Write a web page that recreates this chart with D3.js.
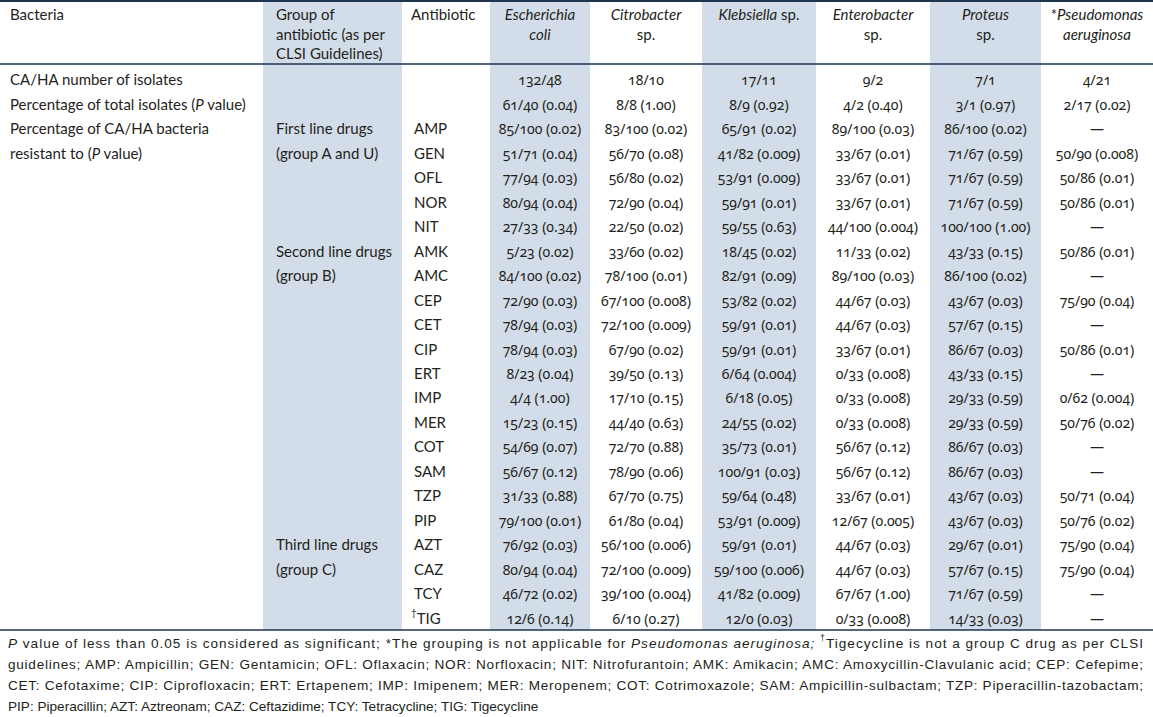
<!DOCTYPE html>
<html>
<head>
<meta charset="utf-8">
<script src="https://cdn.jsdelivr.net/npm/d3@7/dist/d3.min.js"></script>
<style>
  html, body { margin: 0; padding: 0; background: #fff; }
  svg { display: block; }
  .t { font-family: Lato, "Noto Sans", sans-serif; font-size: 15px; fill: #231f20; }
  .v { font-family: "Noto Sans", Lato, sans-serif; font-size: 14px; fill: #231f20; font-variant-numeric: oldstyle-nums; font-feature-settings: "onum" 1; }
  .fn { font-family: "Liberation Sans", Arial, sans-serif; font-size: 13.6px; fill: #231f20; }
</style>
</head>
<body>
<svg id="chart" width="1153" height="717"></svg>
<script>
// ---------- DATA ----------
const bacteria = ["Escherichia coli", "Citrobacter sp.", "Klebsiella sp.", "Enterobacter sp.", "Proteus sp.", "*Pseudomonas aeruginosa"];
const antibiotics = ["AMP","GEN","OFL","NOR","NIT","AMK","AMC","CEP","CET","CIP","ERT","IMP","MER","COT","SAM","TZP","PIP","AZT","CAZ","TCY","TIG"];
const groupLabels = [["First line drugs","(group A and U)"],["Second line drugs","(group B)"],["Third line drugs","(group C)"]];
const groupStart = ["AMP","AMK","AZT"];
const isolates = ["132/48","18/10","17/11","9/2","7/1","4/21"];
const percentTotal = ["61/40 (0.04)","8/8 (1.00)","8/9 (0.92)","4/2 (0.40)","3/1 (0.97)","2/17 (0.02)"];
const ecoli = ["85/100 (0.02)","51/71 (0.04)","77/94 (0.03)","80/94 (0.04)","27/33 (0.34)","5/23 (0.02)","84/100 (0.02)","72/90 (0.03)","78/94 (0.03)","78/94 (0.03)","8/23 (0.04)","4/4 (1.00)","15/23 (0.15)","54/69 (0.07)","56/67 (0.12)","31/33 (0.88)","79/100 (0.01)","76/92 (0.03)","80/94 (0.04)","46/72 (0.02)","12/6 (0.14)"];
const citrobacter = ["83/100 (0.02)","56/70 (0.08)","56/80 (0.02)","72/90 (0.04)","22/50 (0.02)","33/60 (0.02)","78/100 (0.01)","67/100 (0.008)","72/100 (0.009)","67/90 (0.02)","39/50 (0.13)","17/10 (0.15)","44/40 (0.63)","72/70 (0.88)","78/90 (0.06)","67/70 (0.75)","61/80 (0.04)","56/100 (0.006)","72/100 (0.009)","39/100 (0.004)","6/10 (0.27)"];
const klebsiella = ["65/91 (0.02)","41/82 (0.009)","53/91 (0.009)","59/91 (0.01)","59/55 (0.63)","18/45 (0.02)","82/91 (0.09)","53/82 (0.02)","59/91 (0.01)","59/91 (0.01)","6/64 (0.004)","6/18 (0.05)","24/55 (0.02)","35/73 (0.01)","100/91 (0.03)","59/64 (0.48)","53/91 (0.009)","59/91 (0.01)","59/100 (0.006)","41/82 (0.009)","12/0 (0.03)"];
const enterobacter = ["89/100 (0.03)","33/67 (0.01)","33/67 (0.01)","33/67 (0.01)","44/100 (0.004)","11/33 (0.02)","89/100 (0.03)","44/67 (0.03)","44/67 (0.03)","33/67 (0.01)","0/33 (0.008)","0/33 (0.008)","0/33 (0.008)","56/67 (0.12)","56/67 (0.12)","33/67 (0.01)","12/67 (0.005)","44/67 (0.03)","44/67 (0.03)","67/67 (1.00)","0/33 (0.008)"];
const proteus = ["86/100 (0.02)","71/67 (0.59)","71/67 (0.59)","71/67 (0.59)","100/100 (1.00)","43/33 (0.15)","86/100 (0.02)","43/67 (0.03)","57/67 (0.15)","86/67 (0.03)","43/33 (0.15)","29/33 (0.59)","29/33 (0.59)","86/67 (0.03)","86/67 (0.03)","43/67 (0.03)","43/67 (0.03)","29/67 (0.01)","57/67 (0.15)","71/67 (0.59)","14/33 (0.03)"];
const pseudomonas = ["—","50/90 (0.008)","50/86 (0.01)","50/86 (0.01)","—","50/86 (0.01)","—","75/90 (0.04)","—","50/86 (0.01)","—","0/62 (0.004)","50/76 (0.02)","—","—","50/71 (0.04)","50/76 (0.02)","75/90 (0.04)","75/90 (0.04)","—","—"];
const resistance = [ecoli, citrobacter, klebsiella, enterobacter, proteus, pseudomonas];

// header text pieces: [text, italic]
const bacteriaHeaders = [
  [[["Escherichia",true]],[["coli",true]]],
  [[["Citrobacter",true]],[["sp.",false]]],
  [[["Klebsiella",true],[" sp.",false]]],
  [[["Enterobacter",true]],[["sp.",false]]],
  [[["Proteus",true]],[["sp.",false]]],
  [[["*",false],["Pseudomonas",true]],[["aeruginosa",true]]]
];
const footnotes = [
  [["P",true],[" value of less than 0.05 is considered as significant; *The grouping is not applicable for ",false],["Pseudomonas aeruginosa;",true],[" ",false],["†",false,true],["Tigecycline is not a group C drug as per CLSI",false]],
  [["guidelines; AMP: Ampicillin; GEN: Gentamicin; OFL: Oflaxacin; NOR: Norfloxacin; NIT: Nitrofurantoin; AMK: Amikacin; AMC: Amoxycillin-Clavulanic acid; CEP: Cefepime;",false]],
  [["CET: Cefotaxime; CIP: Ciprofloxacin; ERT: Ertapenem; IMP: Imipenem; MER: Meropenem; COT: Cotrimoxazole; SAM: Ampicillin-sulbactam; TZP: Piperacillin-tazobactam;",false]],
  [["PIP: Piperacillin; AZT: Aztreonam; CAZ: Ceftazidime; TCY: Tetracycline; TIG: Tigecycline",false]]
];

// ---------- LAYOUT ----------
const W = 1153, H = 717;
const svg = d3.select("#chart");
const lineColor = "#1d3350", shade = "#d3dde9";
const topY = 1, headBottom = 64, tableBottom = 630;

const rowKeys = ["isolates","percent"].concat(antibiotics);
const y = d3.scaleBand().domain(rowKeys).range([headBottom + 3, tableBottom]);
const yc = k => y(k) + y.bandwidth() / 2;

const colKeys = ["label","group","antibiotic"].concat(bacteria);
const colEdges = [0, 263, 402, 490, 590, 702, 816, 930, 1041, 1153];
const xCol = d3.scaleOrdinal().domain(colKeys).range(colEdges.slice(0, -1));
const xEnd = d3.scaleOrdinal().domain(colKeys).range(colEdges.slice(1));
const dataCenter = b => (xCol(b) + xEnd(b)) / 2;

const shaded = ["group", bacteria[0], bacteria[2], bacteria[4]];
svg.selectAll("rect.shade").data(shaded).join("rect")
  .attr("x", d => xCol(d)).attr("y", topY)
  .attr("width", d => xEnd(d) - xCol(d)).attr("height", tableBottom - topY)
  .attr("fill", shade);

[[topY, 2], [headBottom, 1.6], [tableBottom, 1.6]].forEach(([yy, w]) => {
  svg.append("line").attr("x1", 0).attr("x2", W).attr("y1", yy).attr("y2", yy)
    .attr("stroke", lineColor).attr("stroke-width", w);
});

function addText(x, yy, pieces, anchor, cls) {
  const t = svg.append("text").attr("class", cls || "t").attr("x", x).attr("y", yy)
    .attr("text-anchor", anchor || "start").attr("dominant-baseline", "central");
  pieces.forEach(p => {
    const ts = t.append("tspan").text(p[0]);
    if (p[1]) ts.attr("font-style", "italic");
    if (p[2]) ts.attr("baseline-shift", "super").attr("font-size", "0.65em");
  });
  return t;
}

const hy = [14, 33.5, 53];
const xLabel = 10, xGroup = xCol("group") + 13, xAnti = xCol("antibiotic") + 12;
addText(xLabel, hy[0], [["Bacteria"]]);
["Group of", "antibiotic (as per", "CLSI Guidelines)"].forEach((s, i) => addText(xGroup, hy[i], [[s]]));
addText(xAnti - 3, hy[0], [["Antibiotic"]]);
bacteria.forEach((b, i) => {
  bacteriaHeaders[i].forEach((line, j) => addText(dataCenter(b), hy[j], line, "middle"));
});

addText(xLabel, yc("isolates"), [["CA/HA number of isolates"]]);
addText(xLabel, yc("percent"), [["Percentage of total isolates ("],["P",true],[" value)"]]);
addText(xLabel, yc("AMP"), [["Percentage of CA/HA bacteria"]]);
addText(xLabel, yc("GEN"), [["resistant to ("],["P",true],[" value)"]]);

groupStart.forEach((k, i) => {
  const idx = antibiotics.indexOf(k);
  addText(xGroup, yc(k), [[groupLabels[i][0]]]);
  addText(xGroup, yc(antibiotics[idx + 1]), [[groupLabels[i][1]]]);
});

antibiotics.forEach(a => {
  if (a === "TIG") addText(xAnti - 3, yc(a), [["†",false,true],["TIG"]]);
  else addText(xAnti, yc(a), [[a]]);
});

bacteria.forEach((b, i) => {
  addText(dataCenter(b), yc("isolates"), [[isolates[i]]], "middle", "v");
  addText(dataCenter(b), yc("percent"), [[percentTotal[i]]], "middle", "v");
  antibiotics.forEach((a, j) => addText(dataCenter(b), yc(a), [[resistance[i][j]]], "middle", "v"));
});

const fy = [643, 664, 685, 706];
footnotes.forEach((line, i) => {
  const t = addText(8, fy[i], line, "start", "fn");
  if (i < 3) t.attr("textLength", 1135).attr("lengthAdjust", "spacing");
});
</script>
</body>
</html>
